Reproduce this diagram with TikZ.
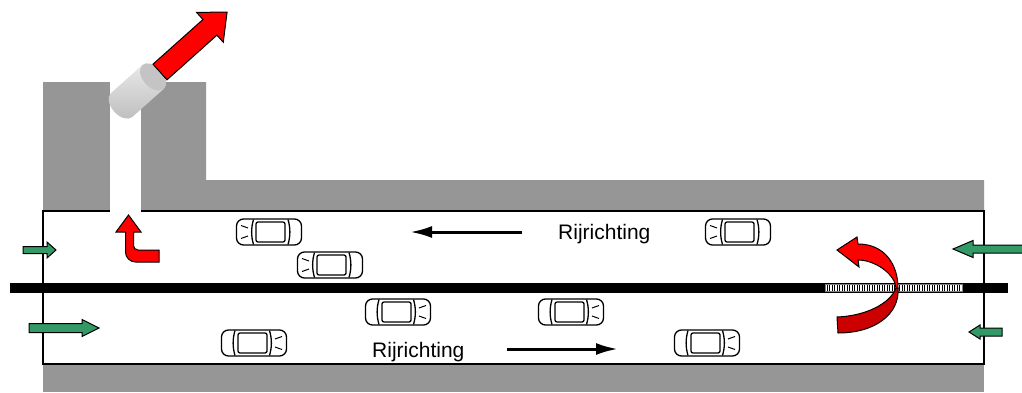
\documentclass[tikz,border=0pt]{standalone}
\usepackage{fontspec}
\setmainfont{Liberation Sans}
\usetikzlibrary{arrows.meta}

\definecolor{wallgrey}{RGB}{150,150,150}
\definecolor{flowgreen}{RGB}{51,153,102}
\definecolor{darkred}{RGB}{204,0,0}
\definecolor{fanlight}{RGB}{234,234,234}
\definecolor{fandark}{RGB}{190,190,190}
\definecolor{fanface}{RGB}{196,196,196}

\begin{document}
\begin{tikzpicture}[
  x=1pt,y=1pt,
  >={Latex[length=22pt,width=12pt]},
  wall/.style={fill=wallgrey,draw=none},
  tube/.style={draw,line width=1.5pt},
  airflow/.style={draw,fill=flowgreen,line width=1pt,line join=miter},
  fanflow/.style={draw,fill=red,line width=1pt,line join=miter},
  lane/.style={line width=3pt,->},
  signtext/.style={font=\fontsize{21}{25}\selectfont,inner sep=0pt,anchor=base west},
  car/.pic={
    \draw[line width=1.3pt,fill=white,rounded corners=7pt] (-32.5,-13) rectangle (32.5,13);
    \draw[line width=1.3pt,rounded corners=2pt] (-13,-10) rectangle (16,10);
    \draw[line width=1.3pt] (-15.5,12.5) .. controls (-18,4) and (-18,-4) .. (-15.5,-12.5);
    \draw[line width=1.3pt] (19,12.5) .. controls (21.5,4) and (21.5,-4) .. (19,-12.5);
    \draw[line width=1pt] (-28,6.5) -- (-21,4) (-28,-6.5) -- (-21,-4);
  },
  ]
  \fill[white] (0,0) rectangle (1022,392);
  \useasboundingbox (0,0) rectangle (1022,392);

  \fill[wall] (43,181) rectangle (110,310);
  \fill[wall] (141,181) -- (141,310) -- (206,310) -- (206,212) -- (984,212) -- (984,181) -- cycle;
  \fill[wall] (43,0) rectangle (984,28);
  \draw[tube] (110,181) -- (43,181) -- (43,28) -- (984,28) -- (984,181) -- (141,181);

  \fill (10,99) rectangle (1008,109);
  \draw[draw=gray,fill=white,line width=0.8pt] (825,100.5) rectangle (962,107.5);
  \foreach \x in {827,829.5,...,961}
    \draw[line width=0.4pt] (\x,101) -- (\x,107);

  \pic at (269,160) {car};
  \pic at (330,127) {car};
  \pic at (738,160) {car};
  \pic[xscale=-1] at (398,80) {car};
  \pic[xscale=-1] at (571,80) {car};
  \pic[xscale=-1] at (254,49) {car};
  \pic[xscale=-1] at (707,49) {car};

  \node[signtext] (dirwest) at (558,152.5) {Rijrichting};
  \node[signtext] (direast) at (372,34.5) {Rijrichting};
  \draw[lane] (522,160) -- (410,160);
  \draw[lane] (507,43) -- (618,43);

  \draw[airflow] (23,138.5) -- (47,138.5) -- (47,134) -- (56,142) -- (47,150) -- (47,145.5) -- (23,145.5) -- cycle;
  \draw[airflow] (29,59.5) -- (82,59.5) -- (82,55.5) -- (99,64) -- (82,72.5) -- (82,68.5) -- (29,68.5) -- cycle;
  \draw[airflow] (1030,139) -- (973,139) -- (973,134.5) -- (953,143) -- (973,151.5) -- (973,147) -- (1030,147) -- cycle;
  \draw[airflow] (1002,56) -- (980,56) -- (980,53) -- (969,60) -- (980,67) -- (980,64) -- (1002,64) -- cycle;

  \draw[fanflow] (159,142) -- (138,142) arc[start angle=270,end angle=180,radius=4.5]
    -- (133.5,160) -- (141,160) -- (128.5,177) -- (116,160) -- (125.5,160)
    -- (125.5,140) arc[start angle=180,end angle=270,radius=10] -- (159,130) -- cycle;

  \draw[fanflow,fill=darkred] (898,104) .. controls (900,78) and (875,59) .. (838,59)
    -- (837,75) .. controls (865,76) and (890,88) .. (896,104) -- cycle;
  \draw[fanflow] (898,104) .. controls (898,127) and (885,148) .. (858,148)
    -- (857,155) -- (837,142) -- (859,125) -- (858,132)
    .. controls (875,132) and (895,118) .. (896,104) -- cycle;

  \begin{scope}[shift={(153,315)},rotate=41.8]
    \shade[top color=fanlight,bottom color=fandark]
      (0,16) -- (-42,16) arc[start angle=90,end angle=270,x radius=10,y radius=16]
      -- (0,-16) arc[start angle=-90,end angle=90,x radius=10,y radius=16] -- cycle;
    \fill[fanface] (0,0) ellipse[x radius=10,y radius=16];
  \end{scope}
  \begin{scope}[shift={(160,320)},rotate=41.8]
    \draw[fanflow] (0,-10.5) -- (67,-10.5) -- (67,-20) -- (90,0) -- (67,20) -- (67,10.5) -- (0,10.5) -- cycle;
  \end{scope}
\end{tikzpicture}
\end{document}
